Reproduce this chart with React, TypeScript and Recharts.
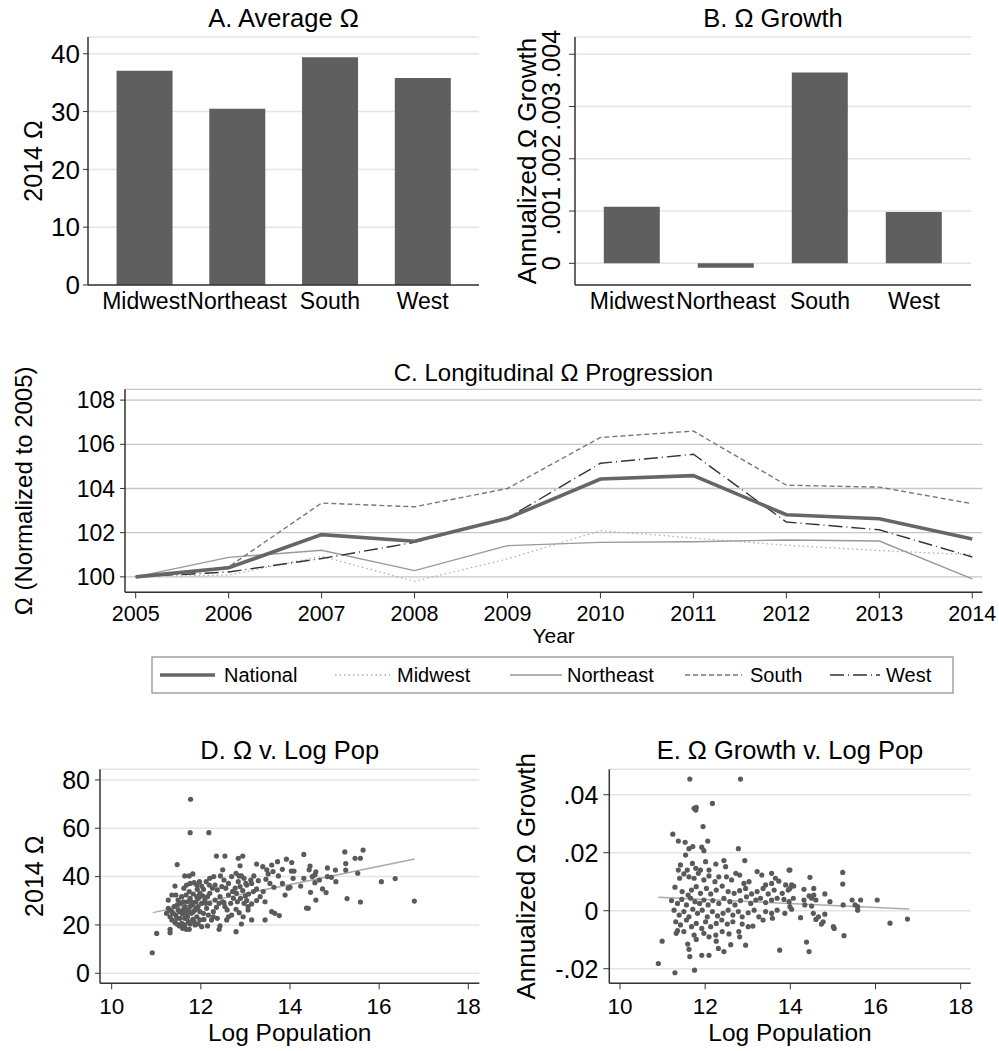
import React from "react";
import {
  Bar,
  BarChart,
  CartesianGrid,
  Line,
  LineChart,
  ReferenceLine,
  Scatter,
  ScatterChart,
  XAxis,
  YAxis,
} from "recharts";

// ---- data ----
const regions = ["Midwest", "Northeast", "South", "West"];
const avgOmega = [37.05, 30.5, 39.4, 35.8];
const omegaGrowth = [0.00108, -0.000085, 0.00365, 0.00098];

const years = [2005, 2006, 2007, 2008, 2009, 2010, 2011, 2012, 2013, 2014];
const national = [100, 100.41, 101.91, 101.61, 102.65, 104.43, 104.58, 102.81, 102.63, 101.71];
const midwest = [100, 100.08, 100.93, 99.8, 100.81, 102.09, 101.76, 101.43, 101.19, 101.0];
const northeast = [100, 100.88, 101.2, 100.28, 101.41, 101.56, 101.59, 101.67, 101.62, 99.91];
const south = [100, 100.45, 103.34, 103.17, 104.0, 106.31, 106.6, 104.15, 104.06, 103.31];
const west = [100, 100.22, 100.83, 101.56, 102.66, 105.14, 105.55, 102.48, 102.13, 100.9];

// [log population, 2014 omega]
const scatterD: [number, number][] = [
  [11.77, 72.0], [11.76, 58.2], [12.18, 58.2], [10.91, 8.5], [11.01, 16.5], [11.31, 18.2], [11.31, 16.8],
  [11.47, 45.0], [12.35, 48.5], [12.54, 48.5], [12.84, 47.6], [12.94, 48.5], [12.49, 42.8], [12.88, 44.5],
  [11.64, 40.3], [11.74, 40.3], [11.82, 41.1], [11.42, 36.1], [12.79, 17.2], [12.91, 20.4], [13.14, 22.1],
  [13.44, 22.1], [13.25, 45.2], [13.39, 44.1], [13.48, 42.8], [13.59, 44.8], [13.72, 46.2], [13.92, 47.2],
  [13.83, 43.0], [13.62, 42.1], [13.51, 41.1], [13.74, 40.3], [13.46, 38.9], [13.55, 37.2], [13.64, 35.6],
  [13.83, 37.2], [13.89, 32.4], [13.96, 35.2], [13.4, 33.8], [13.33, 31.7], [13.25, 30.1], [13.14, 28.7],
  [13.06, 26.2], [13.03, 36.5], [13.12, 38.6], [13.19, 40.3], [13.29, 38.3], [13.25, 34.9], [13.44, 29.6],
  [13.59, 25.5], [13.66, 24.8], [13.76, 23.9], [14.04, 45.8], [14.03, 42.3], [14.09, 42.3], [14.31, 49.2],
  [14.45, 44.4], [14.43, 42.8], [14.58, 42.0], [14.56, 40.7], [14.5, 40.0], [14.07, 39.3], [14.31, 39.3],
  [14.0, 35.6], [14.24, 36.1], [14.56, 37.5], [14.66, 38.6], [14.46, 33.5], [14.58, 30.3], [14.41, 26.9],
  [14.73, 34.9], [14.81, 33.4], [14.84, 43.6], [14.84, 40.0], [14.93, 39.7], [15.03, 37.9], [15.02, 42.7],
  [15.23, 50.2], [15.25, 45.4], [15.25, 42.7], [15.46, 47.6], [15.58, 47.6], [15.64, 51.0], [15.52, 41.4],
  [15.28, 30.9], [15.58, 29.5], [16.05, 37.9], [16.36, 39.2], [16.79, 29.9],
  [11.27, 26.9], [11.23, 24.8], [11.31, 23.4], [11.35, 25.5], [11.4, 27.6], [11.44, 24.1], [11.49, 26.2],
  [11.53, 22.75], [11.57, 20.7], [11.59, 18.6], [11.67, 18.2], [11.74, 18.2], [11.76, 20.4], [11.87, 20.0],
  [11.94, 20.4], [12.02, 19.3], [12.15, 19.6], [12.24, 22.1], [12.28, 23.4], [12.37, 22.75], [12.41, 18.2],
  [12.43, 19.6], [12.58, 22.1], [12.62, 23.4], [12.69, 24.1], [12.79, 26.5], [12.86, 25.1], [12.95, 23.4],
  [11.44, 32.4], [11.49, 30.3], [11.57, 31.7], [11.62, 35.2], [11.68, 36.5], [11.76, 37.2], [11.85, 37.5],
  [11.91, 36.5], [11.97, 37.9], [12.02, 36.1], [12.06, 34.75], [11.98, 33.1], [11.91, 31.7], [11.83, 32.8],
  [11.76, 31.0], [11.7, 29.6], [11.64, 27.6], [11.72, 26.2], [11.79, 24.8], [11.87, 26.2], [11.94, 27.6],
  [12.02, 28.96], [12.09, 30.3], [12.15, 31.7], [12.2, 33.1], [12.26, 35.2], [12.12, 37.9], [12.2, 39.3],
  [12.29, 40.0], [12.32, 36.5], [12.37, 34.5], [12.43, 31.7], [12.49, 29.6], [12.54, 27.6], [12.59, 26.2],
  [12.67, 28.96], [12.73, 31.0], [12.8, 33.1], [12.77, 35.2], [12.84, 37.9], [12.91, 40.3], [12.97, 39.3],
  [13.01, 37.2], [12.88, 35.86], [12.62, 37.2], [12.56, 35.2], [12.69, 40.0], [12.79, 41.4], [12.86, 40.3],
  [12.94, 34.2], [13.0, 32.0], [13.07, 32.8], [13.18, 33.8], [13.14, 37.2], [12.52, 29.2], [12.35, 27.3],
  [12.28, 25.5], [12.17, 24.1], [12.07, 22.3], [11.98, 22.1], [11.91, 23.4], [11.82, 22.3], [11.72, 21.4],
  [11.64, 22.75], [11.59, 24.5], [11.55, 28.96], [11.47, 28.3], [11.35, 22.1], [11.42, 21.0], [11.52, 19.6],
  [11.64, 20.0], [11.98, 25.5], [12.13, 26.9], [12.2, 28.96], [12.32, 30.3], [12.41, 28.96], [11.89, 29.6],
  [11.82, 28.3], [11.74, 33.8], [11.67, 32.4], [11.61, 26.2], [11.92, 34.75], [12.04, 32.0], [12.19, 36.5],
  [12.47, 35.86], [12.52, 38.6], [12.44, 40.3], [12.62, 32.4], [12.71, 33.8], [12.82, 29.6], [12.89, 31.0],
  [12.97, 28.96], [13.03, 30.1], [13.06, 27.6], [11.76, 27.6], [11.83, 25.5], [11.68, 24.8], [11.91, 26.9],
  [11.79, 29.6], [11.61, 29.6], [11.53, 25.5], [11.46, 22.75], [11.38, 24.8], [11.31, 26.2], [11.85, 21.4],
  [12.06, 24.8], [12.11, 28.96], [11.7, 23.4], [11.95, 31.0], [11.47, 20.3], [11.35, 32.4], [11.27, 30.3],
  [14.37, 27.0],
];
const fitD: [number, number][] = [[10.92, 25.1], [16.8, 47.3]];

// [log population, annualized omega growth]
const scatterE: [number, number][] = [
  [11.64, 0.0454], [12.83, 0.0454], [12.17, 0.037], [11.74, 0.0353], [11.78, 0.0347], [11.79, 0.0356],
  [11.95, 0.029], [11.24, 0.0264], [11.37, 0.024], [11.53, 0.0236], [12.06, 0.024], [11.62, 0.0214],
  [11.71, 0.0221], [11.92, 0.0219], [11.97, 0.0207], [12.78, 0.0214], [11.54, 0.0192], [12.93, 0.0173],
  [10.9, -0.0182], [10.99, -0.0105], [11.29, -0.0214], [11.75, -0.0205], [11.59, -0.0115], [11.62, -0.0133],
  [11.64, -0.0158], [11.79, -0.0099], [11.92, -0.0154], [12.09, -0.0154], [12.26, -0.0105], [12.31, -0.013],
  [12.44, -0.0141], [12.6, -0.0117], [12.81, -0.009], [12.95, -0.0119], [13.75, -0.0136], [11.32, -0.0078],
  [11.35, -0.0069],
  [11.7, 0.0163], [12.01, 0.0169], [12.25, 0.0161], [12.44, 0.0173], [12.48, 0.0152], [11.37, 0.014],
  [11.42, 0.0158], [11.58, 0.014], [11.78, 0.0146], [11.89, 0.014], [12.09, 0.014], [12.72, 0.0129],
  [12.81, 0.0123], [13.22, 0.0135], [13.33, 0.0123], [13.56, 0.0129], [13.65, 0.0112], [13.97, 0.014],
  [11.4, 0.0112], [11.5, 0.0127], [11.62, 0.0117], [11.74, 0.0112], [11.84, 0.0129], [11.97, 0.0106],
  [12.09, 0.012], [12.23, 0.01], [12.32, 0.0117], [12.5, 0.0117], [12.62, 0.0106], [12.91, 0.0094],
  [13.03, 0.01], [13.42, 0.0089], [13.56, 0.0094], [13.73, 0.0102], [13.89, 0.0089],
  [11.29, 0.0081], [11.46, 0.0066], [11.6, 0.0054], [11.68, 0.0071], [11.79, 0.0083], [11.89, 0.006],
  [12.03, 0.0077], [12.13, 0.0058], [12.26, 0.0071], [12.4, 0.0085], [12.54, 0.0066], [12.68, 0.006],
  [12.81, 0.0069], [12.95, 0.0077], [13.09, 0.0058], [13.22, 0.0066], [13.36, 0.0077], [13.48, 0.0058],
  [13.62, 0.0071], [13.81, 0.006], [13.95, 0.0071],
  [11.21, 0.0035], [11.35, 0.0025], [11.45, 0.0039], [11.56, 0.002], [11.66, 0.0043], [11.76, 0.0031],
  [11.87, 0.0025], [11.97, 0.0037], [12.07, 0.002], [12.18, 0.0035], [12.32, 0.0025], [12.44, 0.0043],
  [12.58, 0.0031], [12.7, 0.002], [12.83, 0.0035], [12.97, 0.0048], [13.07, 0.0025], [13.19, 0.0037],
  [13.3, 0.0043], [13.42, 0.0028], [13.56, 0.0037], [13.69, 0.0043], [13.85, 0.0039], [13.97, 0.0031],
  [11.27, 0.0002], [11.39, -0.0015], [11.5, -0.0003], [11.62, -0.0021], [11.71, 0.0005], [11.82, -0.0009],
  [11.93, 0.0002], [12.05, -0.0021], [12.17, -0.0003], [12.29, -0.0018], [12.42, -0.0009], [12.54, 0.0002],
  [12.65, -0.0015], [12.78, -0.0003], [12.87, -0.0021], [13.01, -0.0007], [13.15, 0.0002], [13.26, -0.0021],
  [13.42, -0.0003], [13.56, -0.0009], [13.69, 0.0002], [13.87, -0.0009],
  [11.31, -0.0038], [11.42, -0.0049], [11.56, -0.0032], [11.68, -0.0055], [11.79, -0.0044], [11.92, -0.0061],
  [12.01, -0.0038], [12.13, -0.0055], [12.26, -0.0044], [12.39, -0.0032], [12.52, -0.0046], [12.65, -0.0038],
  [12.87, -0.0046], [13.01, -0.0055], [13.12, -0.0053], [13.36, -0.0032], [13.58, -0.0026],
  [11.5, -0.0072], [11.74, -0.0084], [11.97, -0.0078], [12.09, -0.009], [12.25, -0.0084], [12.4, -0.0072],
  [12.56, -0.008], [12.79, -0.0072],
  [13.99, 0.014], [14.03, 0.0089], [14.08, 0.0085], [13.99, 0.0077], [14.07, 0.0043], [13.99, 0.0014],
  [14.03, 0.0005], [14.24, -0.0024], [14.32, 0.0074], [14.32, 0.0037], [14.34, 0.002], [14.46, 0.0115],
  [14.44, 0.0051], [14.55, 0.0077], [14.55, 0.0054], [14.5, 0.0043], [14.6, 0.0037], [14.5, 0.0016],
  [14.54, -0.0009], [14.6, -0.003], [14.66, -0.0021], [14.73, -0.0046], [14.77, -0.0038], [14.81, -0.0012],
  [14.81, 0.0058], [14.93, 0.0031], [15.01, -0.0055], [15.03, -0.0061], [15.23, 0.0132], [15.23, 0.0092],
  [15.24, 0.002], [15.26, -0.0086], [14.38, -0.0108], [14.44, -0.0141], [15.45, 0.0037], [15.52, 0.002],
  [15.58, 0.0014], [15.58, 0.0002], [15.65, 0.0037], [16.04, 0.0037], [16.34, -0.0043], [16.75, -0.0029],
];
const fitE: [number, number][] = [[10.9, 0.0046], [16.79, 0.0006]];

// ---- derived rows ----
const regionRows = regions.map((r, i) => ({ region: r, avg: avgOmega[i], growth: omegaGrowth[i] }));
const yearRows = years.map((y, i) => ({
  year: y,
  national: national[i],
  midwest: midwest[i],
  northeast: northeast[i],
  south: south[i],
  west: west[i],
}));
const pointsD = scatterD.map(([x, y]) => ({ x, y }));
const pointsE = scatterE.map(([x, y]) => ({ x, y }));

const FONT = "'Liberation Sans', Arial, Helvetica, sans-serif";
const AXIS = "#333";
const FRAME = "#8a8a8a";
const GRID = "#e4e4e4";
const BAR = "#5f5f5f";
const DOT = "#5a5a5a";
const WEST_DASH = "14 4 1 4";

function stataFmt(digits: number) {
  return (v: number) => (v === 0 ? "0" : v.toFixed(digits).replace("0.", "."));
}
const fmt3 = stataFmt(3);
const fmt2 = stataFmt(2);

function RotatedTick(props: any) {
  const { x, y, payload } = props;
  return (
    <text x={x} y={y} transform={`rotate(-90 ${x} ${y})`} textAnchor="middle" fontSize={25} fill="#000">
      {fmt3(payload.value)}
    </text>
  );
}

const dotShape = (p: any) => <circle cx={p.cx} cy={p.cy} r={2.6} fill={DOT} />;

function yTitle(value: string, offset: number, size: number) {
  return {
    value,
    angle: -90,
    position: "insideLeft" as const,
    offset,
    style: { textAnchor: "middle", fontSize: size, fill: "#000" },
  };
}

// top and right edges of the plot box
function frameAxes() {
  return [
    <XAxis
      key="ft"
      xAxisId="frame"
      orientation="top"
      type="number"
      domain={[0, 1]}
      height={0}
      tick={false}
      tickLine={false}
      axisLine={{ stroke: FRAME, strokeWidth: 1.5 }}
    />,
    <YAxis
      key="fr"
      yAxisId="frame"
      orientation="right"
      type="number"
      domain={[0, 1]}
      width={0}
      tick={false}
      tickLine={false}
      axisLine={{ stroke: FRAME, strokeWidth: 1.5 }}
    />,
  ];
}

export default function App() {
  return (
    <div
      style={{
        position: "absolute",
        left: 0,
        top: 0,
        width: 999,
        height: 1051,
        background: "#fff",
        fontFamily: FONT,
      }}
    >
      {/* A. Average */}
      <div style={{ position: "absolute", left: 0, top: 0 }}>
        <BarChart width={500} height={320} data={regionRows} margin={{ top: 37, right: 21, bottom: 0, left: 0 }} barCategoryGap="20%">
          <CartesianGrid vertical={false} stroke={GRID} strokeWidth={1.5} />
          <XAxis
            dataKey="region"
            height={35}
            interval={0}
            tickLine={false}
            tickSize={0}
            tickMargin={8}
            padding={{ left: 10, right: 10 }}
            axisLine={{ stroke: AXIS, strokeWidth: 1.5 }}
            tick={{ fontSize: 23, fill: "#000" }}
          />
          <YAxis
            width={88}
            domain={[0, 42.9]}
            ticks={[0, 10, 20, 30, 40]}
            tickSize={5}
            tickMargin={3}
            axisLine={{ stroke: AXIS, strokeWidth: 1.5 }}
            tickLine={{ stroke: AXIS }}
            tick={{ fontSize: 26, fill: "#000" }}
            label={yTitle("2014 Ω", 33, 25)}
          />
          {frameAxes()}
          <Bar dataKey="avg" fill={BAR} isAnimationActive={false} />
        </BarChart>
      </div>

      {/* B. Growth */}
      <div style={{ position: "absolute", left: 500, top: 0 }}>
        <BarChart width={499} height={320} data={regionRows} margin={{ top: 37, right: 28, bottom: 0, left: 0 }} barCategoryGap="20%">
          <CartesianGrid vertical={false} stroke={GRID} strokeWidth={1.5} />
          <XAxis
            dataKey="region"
            height={35}
            interval={0}
            tickLine={false}
            tickSize={0}
            tickMargin={8}
            padding={{ left: 10, right: 10 }}
            axisLine={{ stroke: AXIS, strokeWidth: 1.5 }}
            tick={{ fontSize: 23, fill: "#000" }}
          />
          <YAxis
            width={75}
            domain={[-0.000415, 0.00433]}
            ticks={[0, 0.001, 0.002, 0.003, 0.004]}
            tickSize={6}
            tickMargin={9}
            axisLine={{ stroke: AXIS, strokeWidth: 1.5 }}
            tickLine={{ stroke: AXIS }}
            tick={<RotatedTick />}
            label={yTitle("Annualized Ω Growth", 27, 26)}
          />
          {frameAxes()}
          <Bar dataKey="growth" fill={BAR} isAnimationActive={false} />
        </BarChart>
      </div>

      {/* C. Longitudinal */}
      <div style={{ position: "absolute", left: 0, top: 350 }}>
        <LineChart width={999} height={300} data={yearRows} margin={{ top: 39.3, right: 16.7, bottom: 0, left: 0 }}>
          <CartesianGrid vertical={false} stroke="#c6c6c6" strokeWidth={1.3} />
          <XAxis
            dataKey="year"
            type="number"
            domain={[2004.885, 2014.108]}
            ticks={years}
            height={57.7}
            tickSize={6}
            tickMargin={7}
            axisLine={{ stroke: AXIS, strokeWidth: 1.5 }}
            tickLine={{ stroke: AXIS }}
            tick={{ fontSize: 21.5, fill: "#000" }}
            label={{ value: "Year", position: "insideBottom", offset: 6.7, style: { fontSize: 21, fill: "#000" } }}
          />
          <YAxis
            width={125}
            domain={[99.3, 108.49]}
            ticks={[100, 102, 104, 106, 108]}
            tickSize={5}
            tickMargin={5}
            axisLine={{ stroke: AXIS, strokeWidth: 1.5 }}
            tickLine={{ stroke: AXIS }}
            tick={{ fontSize: 23, fill: "#000" }}
            label={yTitle("Ω (Normalized to 2005)", 23, 24)}
          />
          {frameAxes()}
          <Line dataKey="midwest" stroke="#b0b0b0" strokeWidth={1.3} strokeDasharray="1.5 3" dot={false} isAnimationActive={false} />
          <Line dataKey="northeast" stroke="#999" strokeWidth={1.4} dot={false} isAnimationActive={false} />
          <Line dataKey="south" stroke="#777" strokeWidth={1.4} strokeDasharray="5 3" dot={false} isAnimationActive={false} />
          <Line dataKey="west" stroke="#333" strokeWidth={1.4} strokeDasharray={WEST_DASH} dot={false} isAnimationActive={false} />
          <Line dataKey="national" stroke="#666" strokeWidth={3.6} dot={false} isAnimationActive={false} />
        </LineChart>
      </div>

      {/* D. Omega vs log pop */}
      <div style={{ position: "absolute", left: 0, top: 720 }}>
        <ScatterChart width={500} height={331} margin={{ top: 49.3, right: 20.7, bottom: 0, left: 0 }}>
          <CartesianGrid vertical={false} stroke={GRID} strokeWidth={1.5} />
          <XAxis
            dataKey="x"
            type="number"
            domain={[9.738, 18.247]}
            ticks={[10, 12, 14, 16, 18]}
            height={67.7}
            tickSize={6}
            tickMargin={9}
            axisLine={{ stroke: AXIS, strokeWidth: 1.5 }}
            tickLine={{ stroke: AXIS }}
            tick={{ fontSize: 22.5, fill: "#000" }}
            label={{ value: "Log Population", position: "insideBottom", offset: 10, style: { fontSize: 24.5, fill: "#000" } }}
          />
          <YAxis
            dataKey="y"
            type="number"
            width={100}
            domain={[-4.14, 84.4]}
            ticks={[0, 20, 40, 60, 80]}
            tickSize={5}
            tickMargin={5}
            axisLine={{ stroke: AXIS, strokeWidth: 1.5 }}
            tickLine={{ stroke: AXIS }}
            tick={{ fontSize: 25, fill: "#000" }}
            label={yTitle("2014 Ω", 34, 25)}
          />
          {frameAxes()}
          <Scatter data={pointsD} shape={dotShape} isAnimationActive={false} />
          <ReferenceLine
            segment={fitD.map(([x, y]) => ({ x, y }))}
            stroke="#ababab"
            strokeWidth={1.5}
          />
        </ScatterChart>
      </div>

      {/* E. Growth vs log pop */}
      <div style={{ position: "absolute", left: 500, top: 720 }}>
        <ScatterChart width={499} height={331} margin={{ top: 49.3, right: 28.3, bottom: 0, left: 0 }}>
          <CartesianGrid vertical={false} stroke={GRID} strokeWidth={1.5} />
          <XAxis
            dataKey="x"
            type="number"
            domain={[9.749, 18.235]}
            ticks={[10, 12, 14, 16, 18]}
            height={67.7}
            tickSize={6}
            tickMargin={9}
            axisLine={{ stroke: AXIS, strokeWidth: 1.5 }}
            tickLine={{ stroke: AXIS }}
            tick={{ fontSize: 22.5, fill: "#000" }}
            label={{ value: "Log Population", position: "insideBottom", offset: 10, style: { fontSize: 24.5, fill: "#000" } }}
          />
          <YAxis
            dataKey="y"
            type="number"
            width={109.3}
            domain={[-0.02503, 0.04876]}
            ticks={[-0.02, 0, 0.02, 0.04]}
            tickFormatter={fmt2}
            tickSize={6}
            tickMargin={5}
            axisLine={{ stroke: AXIS, strokeWidth: 1.5 }}
            tickLine={{ stroke: AXIS }}
            tick={{ fontSize: 25, fill: "#000" }}
            label={yTitle("Annualized Ω Growth", 26, 26)}
          />
          {frameAxes()}
          <Scatter data={pointsE} shape={dotShape} isAnimationActive={false} />
          <ReferenceLine
            segment={fitE.map(([x, y]) => ({ x, y }))}
            stroke="#ababab"
            strokeWidth={1.5}
          />
        </ScatterChart>
      </div>

      {/* titles and the panel C legend */}
      <svg
        width={999}
        height={1051}
        style={{ position: "absolute", left: 0, top: 0, pointerEvents: "none", fontFamily: FONT }}
      >
        <g fill="#000" textAnchor="middle">
          <text x={283.5} y={26.7} fontSize={25.5}>A. Average Ω</text>
          <text x={773} y={26.7} fontSize={25.5}>B. Ω Growth</text>
          <text x={553.5} y={380.7} fontSize={24}>C. Longitudinal Ω Progression</text>
          <text x={289.7} y={759.3} fontSize={25.5}>D. Ω v. Log Pop</text>
          <text x={790} y={759.3} fontSize={25.5}>E. Ω Growth v. Log Pop</text>
        </g>
        <rect x={152} y={657} width={801} height={36} fill="#fff" stroke="#8a8a8a" strokeWidth={1.2} />
        <line x1={160} x2={215} y1={675} y2={675} stroke="#666" strokeWidth={3.6} />
        <line x1={335} x2={390} y1={675} y2={675} stroke="#b0b0b0" strokeWidth={1.3} strokeDasharray="1.5 3" />
        <line x1={510} x2={562} y1={675} y2={675} stroke="#999" strokeWidth={1.4} />
        <line x1={685} x2={742} y1={675} y2={675} stroke="#777" strokeWidth={1.4} strokeDasharray="5 3" />
        <line x1={830} x2={880} y1={675} y2={675} stroke="#333" strokeWidth={1.4} strokeDasharray={WEST_DASH} />
        <g fill="#000" fontSize={20}>
          <text x={224} y={682}>National</text>
          <text x={397} y={682}>Midwest</text>
          <text x={567} y={682}>Northeast</text>
          <text x={750} y={682}>South</text>
          <text x={886} y={682}>West</text>
        </g>
      </svg>
    </div>
  );
}
